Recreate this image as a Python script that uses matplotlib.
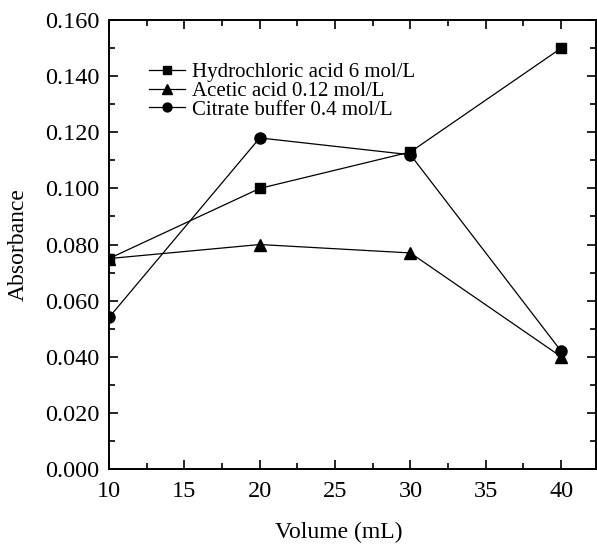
import matplotlib
matplotlib.use("Agg")
import matplotlib.pyplot as plt
from matplotlib.ticker import MultipleLocator, FormatStrFormatter

# Data
volume = [10, 20, 30, 40]
hcl = [0.075, 0.100, 0.113, 0.150]
acetic = [0.075, 0.080, 0.077, 0.040]
citrate = [0.054, 0.118, 0.112, 0.042]

plt.rcParams['font.family'] = ['Liberation Serif', 'DejaVu Serif']

fig = plt.figure(figsize=(5.97, 5.44), dpi=100)
ax = fig.add_axes([0.1826, 0.138, 0.8154, 0.825])

ax.plot(volume, hcl, color='black', lw=0.9, marker='s', ms=7.5,
        label='Hydrochloric acid 6 mol/L')
ax.plot(volume, acetic, color='black', lw=0.9, marker='^', ms=8.5,
        label='Acetic acid 0.12 mol/L')
ax.plot(volume, citrate, color='black', lw=0.9, marker='o', ms=8,
        label='Citrate buffer 0.4 mol/L')

ax.set_xlim(10, 42.3)
ax.set_ylim(0, 0.16)
ax.xaxis.set_major_locator(MultipleLocator(5))
ax.xaxis.set_minor_locator(MultipleLocator(2.5))
ax.yaxis.set_major_locator(MultipleLocator(0.02))
ax.yaxis.set_minor_locator(MultipleLocator(0.01))
ax.yaxis.set_major_formatter(FormatStrFormatter('%.3f'))

ax.tick_params(which='both', direction='in', top=True, right=True,
               labelsize=17.5, width=1.2)
ax.tick_params(which='major', length=6.5)
ax.tick_params(which='minor', length=4.3)
ax.tick_params(axis='x', which='major', pad=9)
ax.tick_params(axis='y', which='major', pad=7)
for s in ax.spines.values():
    s.set_linewidth(1.4)

ax.set_xlabel('Volume (mL)', fontsize=17)
ax.set_ylabel('Absorbance', fontsize=17)
ax.xaxis.set_label_coords(0.472, -0.118)
ax.yaxis.set_label_coords(-0.164, 0.5)

leg = ax.legend(loc='upper left', bbox_to_anchor=(0.06, 0.928), frameon=False,
                fontsize=15, handlelength=1.75, handletextpad=0.35,
                labelspacing=-0.05, borderpad=0, markerscale=0.8)

fig.savefig('out.png', dpi=100)
